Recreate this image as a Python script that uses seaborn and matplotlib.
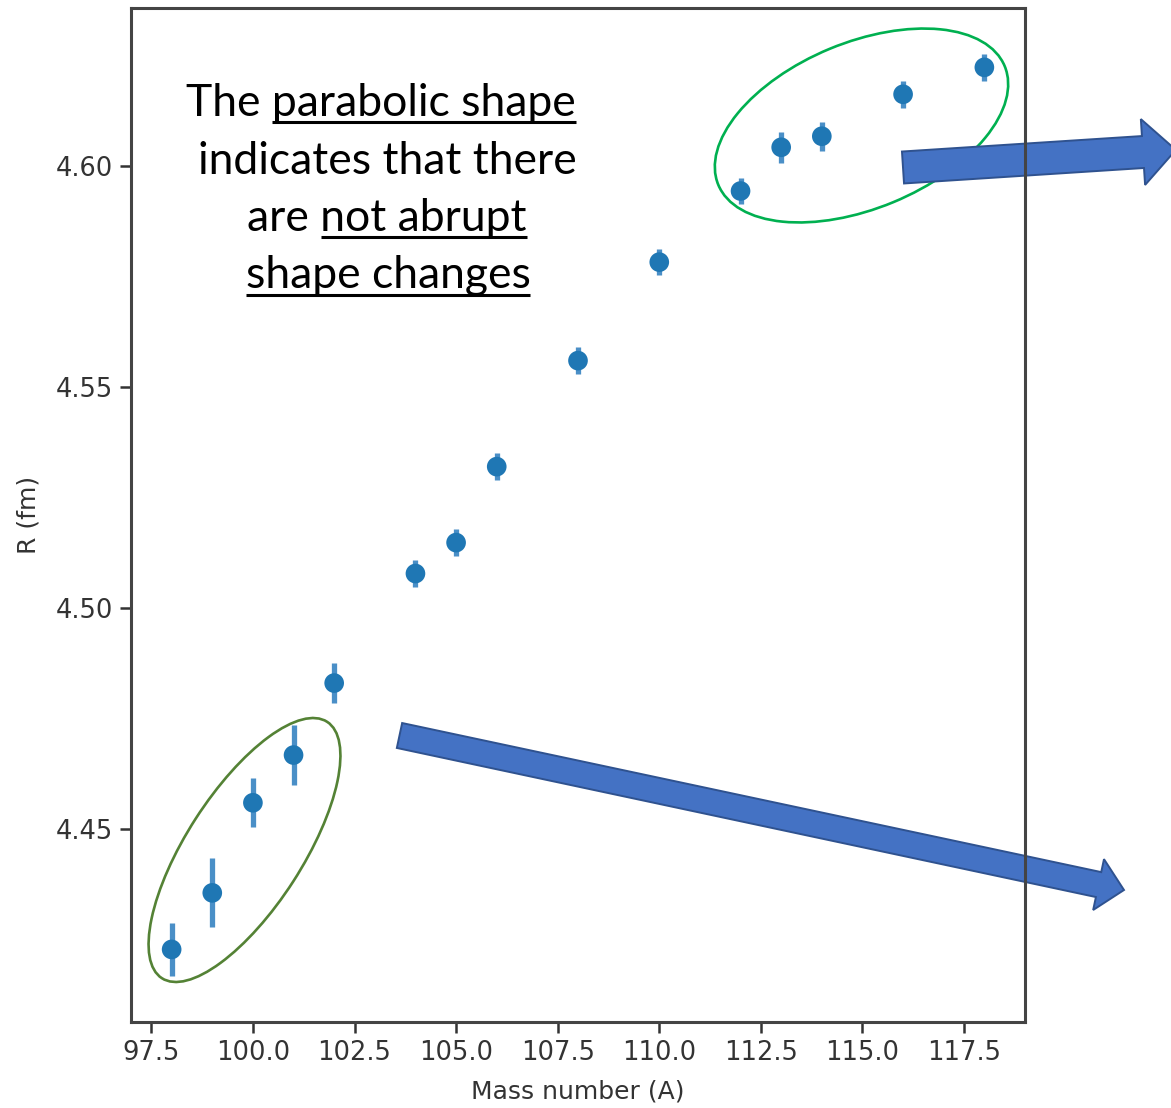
import numpy as np
import pandas as pd
import matplotlib
matplotlib.use("Agg")
import matplotlib.pyplot as plt
import matplotlib.transforms as mtransforms
from matplotlib.patches import Ellipse, FancyArrow
from matplotlib.lines import Line2D
from matplotlib.ticker import MultipleLocator
import seaborn as sns

# ---------------- data ----------------
mass_number = [98, 99, 100, 101, 102, 104, 105, 106, 108, 110, 112, 113, 114, 116, 118]
radius_fm = [4.4227, 4.4355, 4.4559, 4.4667, 4.4830, 4.5078, 4.5148, 4.5320,
             4.5560, 4.5783, 4.5944, 4.6043, 4.6068, 4.6163, 4.6224]
radius_err = [0.0060, 0.0078, 0.0056, 0.0068, 0.0045, 0.0030, 0.0030, 0.0030,
              0.0030, 0.0030, 0.0030, 0.0035, 0.0033, 0.0030, 0.0030]
x_label = "Mass number (A)"
y_label = "R (fm)"
note_lines = [
    [("The ", False), ("parabolic shape", True)],
    [("indicates that there", False)],
    [("are ", False), ("not abrupt", True)],
    [("shape changes", True)],
]

# ---------------- style ----------------
sns.set_theme(style="ticks")
plt.rcParams['font.family'] = ['DejaVu Sans']

W, H = 1171, 1108
fig = plt.figure(figsize=(W / 100, H / 100), dpi=100)
fig.patch.set_facecolor("white")
ax = fig.add_axes([131 / W, 1 - 1022 / H, (1025 - 131) / W, (1022 - 8) / H])
ax.set_facecolor("white")

df = pd.DataFrame({"A": mass_number, "R": radius_fm, "err": radius_err})
ax.errorbar(df["A"], df["R"], yerr=df["err"], fmt="none", ecolor="#4a8fc7",
            elinewidth=3.8, capsize=0, zorder=2)
sns.scatterplot(data=df, x="A", y="R", ax=ax, s=200, color="#1f77b4",
                edgecolor="none", linewidth=0, zorder=3, legend=False)

ax.xaxis.set_major_locator(MultipleLocator(2.5))
ax.yaxis.set_major_locator(MultipleLocator(0.05))
ax.ticklabel_format(useOffset=False)
ax.tick_params(length=8, width=1.8, labelsize=18.5, color="#333333",
               labelcolor="#333333", pad=5)
for sp in ax.spines.values():
    sp.set_linewidth(2.2)
    sp.set_color("#444444")
    sp.set_zorder(5)
ax.set_xlabel(x_label, fontsize=18, color="#333333", labelpad=10)
ax.set_ylabel(y_label, fontsize=18, color="#333333", labelpad=11)

# ---------------- annotations (pixel coordinates, y measured from top) ----------------
ident = mtransforms.IdentityTransform()

def py(y_top):
    return H - y_top

# green ellipses
ax.add_patch(Ellipse((861.5, py(125.5)), 310, 166, angle=22.5, fill=False,
                     edgecolor="#00b050", linewidth=1.9, transform=ident,
                     clip_on=False, zorder=2.2))
ax.add_patch(Ellipse((244.5, py(850)), 305, 116, angle=57.2, fill=False,
                     edgecolor="#548235", linewidth=1.9, transform=ident,
                     clip_on=False, zorder=2.2))

# blue block arrows
ax.add_patch(FancyArrow(903, py(167.5), 272.9, 17.6, width=32, head_width=66,
                        head_length=33, length_includes_head=True,
                        facecolor="#4472c4", edgecolor="#2f528f", linewidth=1.4,
                        transform=ident, clip_on=False, zorder=2.4))
ax.add_patch(FancyArrow(399.5, py(735.5), 724.5, -154.5, width=25.5, head_width=52,
                        head_length=26, length_includes_head=True,
                        facecolor="#4472c4", edgecolor="#2f528f", linewidth=1.4,
                        transform=ident, clip_on=False, zorder=2.4))

# text block with underlines
renderer = fig.canvas.get_renderer()
note_font = "Lato"

def text_width(s, fs):
    t = fig.text(0, 0, s, fontsize=fs, family=note_font, transform=ident)
    w = t.get_window_extent(renderer).width
    t.remove()
    return w

fs = 40 * 378 / text_width("indicates that there", 40)
baselines = [116, 173.5, 231, 288.5]
centers = [381, 387, 387, 388]
for segs, base, cx in zip(note_lines, baselines, centers):
    full = "".join(s for s, _ in segs)
    wf = text_width(full, fs)
    left = cx - wf / 2
    fig.text(left, py(base), full, fontsize=fs, family=note_font, color="black",
             ha="left", va="baseline", transform=ident, zorder=6)
    acc = ""
    for s, under in segs:
        acc += s
        if under:
            end = left + text_width(acc, fs)
            start = end - text_width(s, fs)
            fig.add_artist(Line2D([start, end], [py(base + 6), py(base + 6)],
                                  color="black", linewidth=2.2,
                                  solid_capstyle="butt", transform=ident,
                                  zorder=6))

fig.savefig("out.png", dpi=100, facecolor="white")
